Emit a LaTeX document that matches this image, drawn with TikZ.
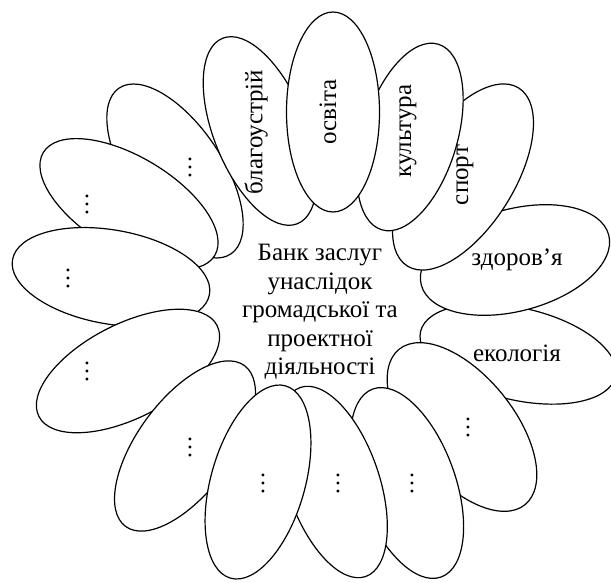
\documentclass[tikz,border=0pt]{standalone}
\usepackage{fontspec}
\setmainfont{Liberation Serif}
\usetikzlibrary{shapes.geometric}
\tikzset{
  petal/.style={draw, fill=white, ellipse, inner sep=0pt, line width=1.2pt,
    minimum width=200pt, minimum height=94pt},
  lbl/.style={font=\fontsize{25}{28.5}\selectfont, inner sep=0pt},
  dts/.style={font=\fontsize{24}{28.5}\selectfont, inner sep=0pt, rotate=90},
}
\begin{document}
\begin{tikzpicture}[x=1pt,y=1pt]
\useasboundingbox (0,0) rectangle (611,582);
% petals, back to front
\node[petal, rotate=124] (p15) at (175,411) {};
\node[petal, rotate=-31] (p14) at (129,378) {};
\node[petal, rotate=-10] (p13) at (111,305) {};
\node[petal, rotate=27] (p12) at (128,211) {};
\node[petal, rotate=53.5] (p11) at (185,136) {};
\node[petal, rotate=-13, minimum height=92pt] (eco) at (518,228) {};
\node[petal, rotate=15, minimum width=194pt, minimum height=102pt] (zdr) at (515,322) {};
\node[petal, rotate=58, minimum width=210pt, minimum height=102pt] (spo) at (463,405) {};
\node[petal, rotate=73, minimum width=194pt] (kul) at (410,445) {};
\node[petal, rotate=129, minimum height=104pt] (p7) at (462,155) {};
\node[petal, rotate=110, minimum height=96pt] (p8) at (407,99) {};
\node[petal, rotate=109, minimum height=92pt] (p9) at (333,100) {};
\node[petal, rotate=74] (p10) at (258,100) {};
\node[petal, rotate=112, minimum height=92pt] (bla) at (260,451) {};
\node[petal, rotate=90, minimum height=93pt] (osv) at (333,470) {};
% labels
\node[lbl, rotate=90] (tbla) at (256,450) {благоустрій};
\node[lbl, rotate=90] (tosv) at (328,470) {освіта};
\node[lbl, rotate=90] (tkul) at (408,451) {культура};
\node[lbl, rotate=90] (tspo) at (465,407) {спорт};
\node[lbl] (tzdr) at (517,322) {здоров’я};
\node[lbl] (teco) at (517,229) {екологія};
\node[dts] (d7) at (468,155) {…};
\node[dts] (d8) at (412,99) {…};
\node[dts] (d9) at (338,99) {…};
\node[dts] (d10) at (263,99) {…};
\node[dts] (d11) at (190,135) {…};
\node[dts] (d12) at (87,210) {…};
\node[dts] (d13) at (68,303) {…};
\node[dts] (d14) at (87,377) {…};
\node[dts] (d15) at (190,414) {…};
\node[lbl, align=center] (ctr) at (320,270) {Банк заслуг\\унаслідок\\громадської та\\проектної\\діяльності};
\end{tikzpicture}
\end{document}
